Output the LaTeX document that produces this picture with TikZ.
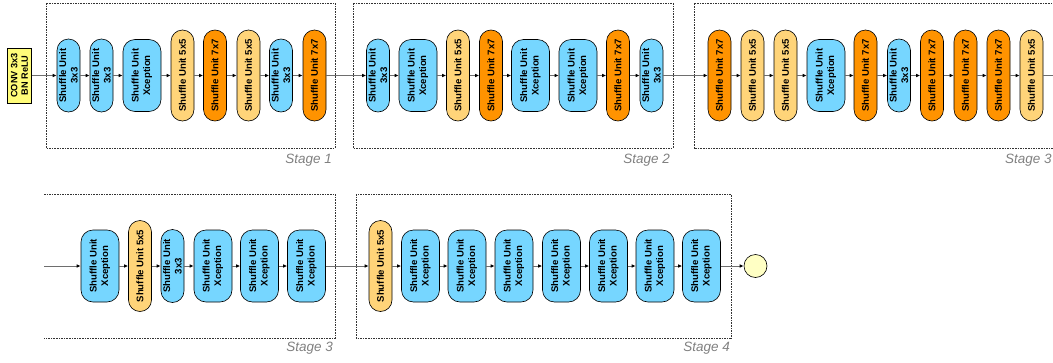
\documentclass[tikz,border=0pt]{standalone}
\usepackage{fontspec}
\setmainfont{Liberation Sans}
\usetikzlibrary{arrows.meta}
\definecolor{skyc}{HTML}{76D6FF}
\definecolor{tang}{HTML}{FF9300}
\definecolor{cant}{HTML}{FFD479}
\definecolor{banana}{HTML}{FFFC79}
\definecolor{lemonc}{HTML}{FFFFC4}
\definecolor{linec}{HTML}{6E6E6E}
\tikzset{
  unitbase/.style={draw=black, line width=0.6pt, rotate=90, inner sep=0pt, align=center,
    font=\fontsize{9.6}{11.5}\selectfont\bfseries},
  uthree/.style={unitbase, fill=skyc, minimum width=73pt, minimum height=23pt, rounded corners=11.5pt},
  uxcep/.style={unitbase, fill=skyc, minimum width=72pt, minimum height=38pt, rounded corners=12pt},
  ufive/.style={unitbase, fill=cant, minimum width=91pt, minimum height=23pt, rounded corners=11.5pt},
  useven/.style={unitbase, fill=tang, minimum width=91pt, minimum height=23pt, rounded corners=11.5pt},
  convbox/.style={draw=black, line width=0.6pt, fill=banana, rotate=90, inner sep=0pt, align=center,
    minimum width=55pt, minimum height=24pt, font=\fontsize{9.2}{10.5}\selectfont\bfseries},
  stagebox/.style={draw=black!80, line width=0.7pt, dash pattern=on 1.6pt off 1pt},
  stagelbl/.style={text=black!50, font=\fontsize{13.5}{15}\selectfont\itshape, inner sep=0pt},
  flow/.style={draw=linec, line width=1pt, -{Latex[color=black,length=4pt,width=3.6pt]}},
  flowplain/.style={draw=linec, line width=1pt},
}
\newcommand{\tthree}{Shuffle Unit\\3x3}
\newcommand{\txcep}{Shuffle Unit\\Xception}
\newcommand{\tfive}{Shuffle Unit 5x5}
\newcommand{\tseven}{Shuffle Unit 7x7}
\begin{document}
\begin{tikzpicture}[x=1pt,y=-1pt]
\useasboundingbox (0,0) rectangle (1053,362);
% stage boxes
\draw[stagebox] (46,3) rectangle (335,148);
\draw[stagebox] (353,3) rectangle (673,148);
\draw[stagebox] (1060,3) -- (694,3) -- (694,148) -- (1060,148);
\draw[stagebox] (44,194) -- (335,194) -- (335,338) -- (44,338);
\draw[stagebox] (356,194) rectangle (731,338);
\node[stagelbl, anchor=east] (l1) at (332,160) {Stage 1};
\node[stagelbl, anchor=east] (l2) at (670,160) {Stage 2};
\node[stagelbl, anchor=west] (l3a) at (1005,160) {Stage 3};
\node[stagelbl, anchor=east] (l3b) at (333,348) {Stage 3};
\node[stagelbl, anchor=east] (l4) at (730,348) {Stage 4};
% top row
\node[convbox] (conv) at (19.5,75.5) {CONV 3x3\\BN ReLU};
\node[uthree] (a1) at (68.5,75.5) {\tthree};
\node[uthree] (a2) at (101.5,75.5) {\tthree};
\node[uxcep]  (a3) at (142,75.5) {\txcep};
\node[ufive]  (a4) at (182.5,75.5) {\tfive};
\node[useven] (a5) at (215,75.5) {\tseven};
\node[ufive]  (a6) at (248.5,75.5) {\tfive};
\node[uthree] (a7) at (281,75.5) {\tthree};
\node[useven] (a8) at (314.5,75.5) {\tseven};
\node[uthree] (b1) at (378,75.5) {\tthree};
\node[uxcep]  (b2) at (418,75.5) {\txcep};
\node[ufive]  (b3) at (458,75.5) {\tfive};
\node[useven] (b4) at (491,75.5) {\tseven};
\node[uxcep]  (b5) at (530.5,75.5) {\txcep};
\node[uxcep]  (b6) at (578,75.5) {\txcep};
\node[useven] (b7) at (618,75.5) {\tseven};
\node[uthree] (b8) at (651.5,75.5) {\tthree};
\node[useven] (c1) at (719.5,75.5) {\tseven};
\node[ufive]  (c2) at (752.5,75.5) {\tfive};
\node[ufive]  (c3) at (785.5,75.5) {\tfive};
\node[uxcep]  (c4) at (826,75.5) {\txcep};
\node[useven] (c5) at (865.5,75.5) {\tseven};
\node[uthree] (c6) at (899,75.5) {\tthree};
\node[useven] (c7) at (932,75.5) {\tseven};
\node[useven] (c8) at (965.5,75.5) {\tseven};
\node[useven] (c9) at (998.5,75.5) {\tseven};
\node[ufive]  (c10) at (1031.5,75.5) {\tfive};
\coordinate (topend) at (1053,75.5);
% bottom row
\coordinate (botstart) at (44,266);
\node[uxcep]  (d1) at (100,266) {\txcep};
\node[ufive]  (d2) at (140,266) {\tfive};
\node[uthree] (d3) at (172.5,266) {\tthree};
\node[uxcep]  (d4) at (213,266) {\txcep};
\node[uxcep]  (d5) at (259.5,266) {\txcep};
\node[uxcep]  (d6) at (306.5,266) {\txcep};
\node[ufive]  (e1) at (380.5,266) {\tfive};
\node[uxcep]  (e2) at (420.5,266) {\txcep};
\node[uxcep]  (e3) at (467,266) {\txcep};
\node[uxcep]  (e4) at (514,266) {\txcep};
\node[uxcep]  (e5) at (561.5,266) {\txcep};
\node[uxcep]  (e6) at (608.5,266) {\txcep};
\node[uxcep]  (e7) at (655,266) {\txcep};
\node[uxcep]  (e8) at (701.5,266) {\txcep};
\node[circle, draw=black, line width=0.6pt, fill=lemonc, minimum size=23pt, inner sep=0pt] (out) at (755.5,266) {};
% connectors
\foreach \p/\q in {conv/a1,a1/a2,a2/a3,a3/a4,a4/a5,a5/a6,a6/a7,a7/a8,a8/b1,
  b1/b2,b2/b3,b3/b4,b4/b5,b5/b6,b6/b7,b7/b8,b8/c1,
  c1/c2,c2/c3,c3/c4,c4/c5,c5/c6,c6/c7,c7/c8,c8/c9,c9/c10,
  botstart/d1,d1/d2,d2/d3,d3/d4,d4/d5,d5/d6,d6/e1,
  e1/e2,e2/e3,e3/e4,e4/e5,e5/e6,e6/e7,e7/e8,e8/out}
  \draw[flow] (\p) -- (\q);
\draw[flowplain] (c10) -- (topend);
\end{tikzpicture}
\end{document}
